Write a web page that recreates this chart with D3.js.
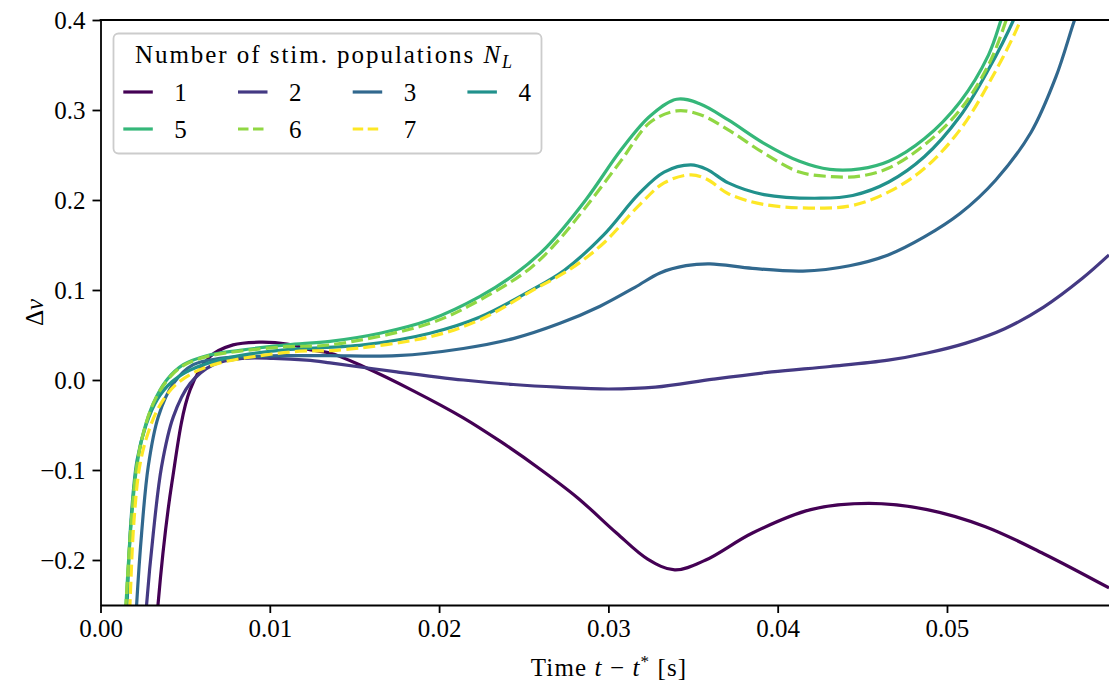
<!DOCTYPE html>
<html><head><meta charset="utf-8">
<script src="https://cdn.jsdelivr.net/npm/d3@7"></script>
<style>
html,body{margin:0;padding:0;background:#fff;}
svg{display:block;}
svg text{font-family:"Liberation Serif","DejaVu Serif",serif !important;fill:#000;}
</style></head>
<body>
<svg id="chart" width="1109" height="684"></svg>
<script>
// ---- data ----
const labels = ["1","2","3","4","5","6","7"];
const colors = ["#440154","#443983","#31688e","#21918c","#35b779","#90d743","#fde725"];
const dashed = [false,false,false,false,false,true,true];
const xTicks = [0.00,0.01,0.02,0.03,0.04,0.05];
const yTicks = [-0.2,-0.1,0.0,0.1,0.2,0.3,0.4];

const t1 = [0.00313,0.00340,0.00422,0.00529,0.00647,0.00783,0.00942,0.01102,0.01255,0.01356,0.01552,0.01848,0.02143,0.02360,0.02589,0.02819,0.03048,0.03232,0.03392,0.03575,0.03851,0.04195,0.04539,0.04883,0.05227,0.05571,0.05957];
const v1 = [-0.333,-0.249,-0.114,-0.011,0.026,0.039,0.042,0.040,0.033,0.030,0.015,-0.012,-0.042,-0.068,-0.098,-0.131,-0.170,-0.199,-0.211,-0.200,-0.170,-0.144,-0.137,-0.144,-0.163,-0.193,-0.231];

const t2 = [0.00245,0.00273,0.00312,0.00361,0.00430,0.00529,0.00666,0.00843,0.01021,0.01218,0.01356,0.01750,0.02143,0.02438,0.02704,0.03002,0.03277,0.03621,0.03965,0.04310,0.04653,0.04883,0.05112,0.05341,0.05571,0.05800,0.05957];
const v2 = [-0.333,-0.248,-0.170,-0.096,-0.041,-0.004,0.017,0.024,0.024,0.022,0.019,0.009,0.000,-0.005,-0.008,-0.010,-0.008,0.001,0.009,0.015,0.022,0.030,0.041,0.057,0.081,0.113,0.139];

const t3 = [0.00192,0.00214,0.00243,0.00282,0.00341,0.00430,0.00548,0.00706,0.00903,0.01100,0.01356,0.01750,0.02143,0.02438,0.02714,0.02951,0.03157,0.03305,0.03458,0.03600,0.03851,0.04149,0.04424,0.04653,0.04866,0.05077,0.05287,0.05496,0.05644,0.05750,0.05815];
const v3 = [-0.333,-0.248,-0.170,-0.096,-0.041,-0.004,0.017,0.024,0.026,0.027,0.027,0.027,0.035,0.046,0.063,0.082,0.103,0.119,0.127,0.129,0.124,0.121,0.127,0.139,0.159,0.185,0.222,0.275,0.337,0.398,0.433];

const t4 = [0.00139,0.00157,0.00180,0.00216,0.00269,0.00334,0.00422,0.00529,0.00676,0.00883,0.01119,0.01552,0.01946,0.02242,0.02537,0.02740,0.02971,0.03181,0.03329,0.03487,0.03582,0.03708,0.03919,0.04255,0.04443,0.04656,0.04866,0.05077,0.05245,0.05393,0.05461];
const v4 = [-0.333,-0.249,-0.156,-0.089,-0.050,-0.022,-0.002,0.011,0.021,0.029,0.034,0.039,0.052,0.070,0.099,0.122,0.161,0.207,0.231,0.239,0.234,0.219,0.206,0.202,0.205,0.220,0.248,0.293,0.345,0.400,0.433];

const t5 = [0.00130,0.00151,0.00184,0.00214,0.00253,0.00312,0.00391,0.00489,0.00627,0.00824,0.01100,0.01356,0.01651,0.01946,0.02242,0.02458,0.02636,0.02866,0.03076,0.03245,0.03403,0.03539,0.03708,0.03919,0.04129,0.04308,0.04486,0.04656,0.04866,0.05077,0.05245,0.05319,0.05372];
const v5 = [-0.333,-0.248,-0.152,-0.096,-0.059,-0.026,0.000,0.017,0.027,0.033,0.039,0.043,0.052,0.067,0.093,0.119,0.148,0.200,0.256,0.293,0.312,0.307,0.289,0.263,0.243,0.234,0.2345,0.243,0.268,0.309,0.361,0.400,0.433];

const t6 = [0.00130,0.00151,0.00184,0.00214,0.00253,0.00312,0.00391,0.00489,0.00627,0.00824,0.01100,0.01356,0.01946,0.02242,0.02537,0.02714,0.02866,0.03076,0.03245,0.03403,0.03539,0.03708,0.03919,0.04129,0.04318,0.04486,0.04656,0.04866,0.05077,0.05245,0.05350,0.05402];
const v6 = [-0.333,-0.248,-0.152,-0.096,-0.059,-0.026,-0.001,0.016,0.026,0.032,0.037,0.039,0.063,0.089,0.124,0.157,0.192,0.244,0.286,0.299,0.295,0.278,0.252,0.231,0.226,0.2265,0.2355,0.261,0.300,0.350,0.400,0.433];

const t7 = [0.00157,0.00174,0.00198,0.00233,0.00286,0.00351,0.00440,0.00558,0.00706,0.00942,0.01178,0.01395,0.01946,0.02242,0.02537,0.02781,0.02971,0.03181,0.03329,0.03487,0.03582,0.03708,0.03919,0.04255,0.04443,0.04656,0.04866,0.05077,0.05266,0.05435,0.05490];
const v7 = [-0.333,-0.249,-0.156,-0.094,-0.056,-0.028,-0.006,0.009,0.019,0.027,0.032,0.033,0.048,0.067,0.098,0.124,0.152,0.194,0.219,0.228,0.223,0.207,0.195,0.191,0.194,0.209,0.235,0.278,0.336,0.400,0.433];

const seriesT = [t1,t2,t3,t4,t5,t6,t7];
const seriesV = [v1,v2,v3,v4,v5,v6,v7];

// ---- layout ----
const L = 100.5, R = 1109.5, T = 20, B = 605;
const FS = 25;
const LW = 3.2;
const DASH = "12,5.2";
const svg = d3.select("#chart");
const x = d3.scaleLinear().domain([0, 0.0596]).range([L, R]);
const y = d3.scaleLinear().domain([-0.25, 0.4]).range([B, T]);

svg.append("defs").append("clipPath").attr("id","clip")
  .append("rect").attr("x",L).attr("y",T).attr("width",R-L).attr("height",B-T);

const line = d3.line().x(d=>x(d[0])).y(d=>y(d[1])).curve(d3.curveCatmullRom.alpha(0.5));
const plot = svg.append("g").attr("clip-path","url(#clip)");
seriesT.forEach((ts,i)=>{
  const pts = ts.map((t,j)=>[t, seriesV[i][j]]);
  plot.append("path").attr("d", line(pts))
    .attr("fill","none").attr("stroke",colors[i]).attr("stroke-width",LW)
    .attr("stroke-linejoin","round")
    .attr("stroke-dasharray", dashed[i] ? DASH : null);
});

// axes
const xAxis = d3.axisBottom(x).tickValues(xTicks).tickFormat(d3.format(".2f")).tickSize(8).tickSizeOuter(0).tickPadding(6);
const yAxis = d3.axisLeft(y).tickValues(yTicks).tickFormat(d3.format(".1f")).tickSize(8).tickSizeOuter(0).tickPadding(7);
const gx = svg.append("g").attr("transform",`translate(0,${B})`).call(xAxis);
const gy = svg.append("g").attr("transform",`translate(${L},0)`).call(yAxis);
[gx,gy].forEach(g=>{
  g.attr("font-family",null);
  g.select(".domain").attr("stroke","#000").attr("stroke-width",1.8);
  g.selectAll(".tick line").attr("stroke","#000").attr("stroke-width",1.8);
  g.selectAll(".tick text").attr("font-size",FS).attr("fill","#000");
});
svg.append("line").attr("x1",L-0.9).attr("x2",R).attr("y1",T).attr("y2",T)
  .attr("stroke","#000").attr("stroke-width",1.8);

// axis labels
const xl = svg.append("text").attr("x",(L+R)/2 + 4).attr("y",676).attr("text-anchor","middle")
  .attr("font-size",FS).attr("letter-spacing",1.1);
xl.append("tspan").text("Time ");
xl.append("tspan").attr("font-style","italic").text("t");
xl.append("tspan").text(" \u2212 ");
xl.append("tspan").attr("font-style","italic").text("t");
xl.append("tspan").attr("font-size",17).attr("dy",-9).text("*");
xl.append("tspan").attr("dy",9).text("  [s]");

const yl = svg.append("text").attr("transform",`translate(43,${(T+B)/2}) rotate(-90)`).attr("text-anchor","middle").attr("font-size",FS);
yl.append("tspan").text("\u0394");
yl.append("tspan").attr("font-style","italic").text("v");

// legend
const lg = svg.append("g");
lg.append("rect").attr("x",113.5).attr("y",33.5).attr("width",428).attr("height",120).attr("rx",5)
  .attr("fill","#fff").attr("fill-opacity",0.8).attr("stroke","#cccccc").attr("stroke-width",1.8);
const title = lg.append("text").attr("x",135).attr("y",63).attr("font-size",FS);
title.append("tspan").text("Number of stim.  populations ");
title.append("tspan").attr("font-style","italic").text("N");
title.append("tspan").attr("font-style","italic").attr("font-size",18).attr("dy",5).text("L");
const natural = title.node().getComputedTextLength();
const nChars = "Number of stim.  populations NL".length;
title.attr("letter-spacing", ((516 - 135) - natural) / nChars);

labels.forEach((lab,i)=>{
  const col = i % 4, row = Math.floor(i/4);
  const x0 = 123.3 + col*114.7, yy = 92 + row*37;
  lg.append("line").attr("x1",x0).attr("x2",x0+29.5).attr("y1",yy).attr("y2",yy)
    .attr("stroke",colors[i]).attr("stroke-width",LW)
    .attr("stroke-dasharray", dashed[i] ? "10.5,4.5" : null);
  lg.append("text").attr("x",x0+51).attr("y",yy+9).attr("font-size",FS).text(lab);
});
</script>
</body></html>
